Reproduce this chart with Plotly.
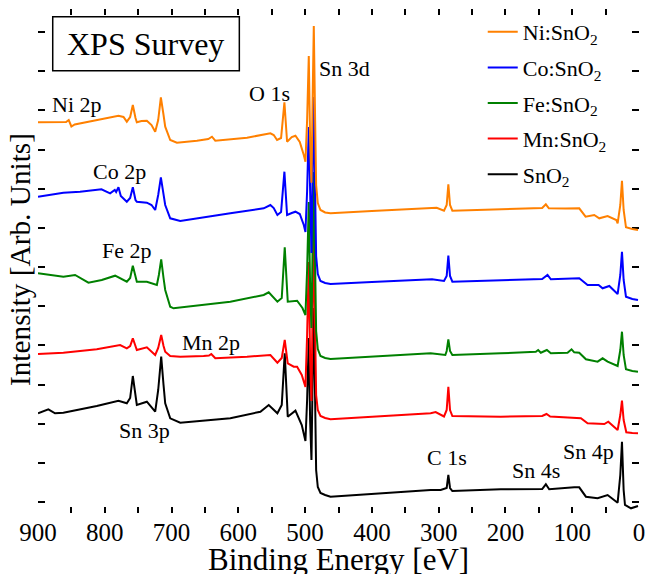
import plotly.graph_objects as go

# ---------------- data (binding energy in eV, intensity in arb. units) ----------------
E_ni = [900, 862, 858, 854, 850, 845, 812, 790, 779.5, 772, 767, 762, 758, 754, 752, 745,
        737, 730, 724.5, 720, 716, 712, 709.5, 702, 692, 662, 645, 639.5, 634.5, 587, 552,
        547, 542, 536, 531, 527, 520, 514.5, 508, 502, 499.5, 497, 494.5, 492.5, 490.5, 489,
        487, 485, 483.5, 481, 477, 470, 462, 400, 310, 303, 292, 288, 285.5, 283, 279.5, 240,
        207, 145, 139.5, 135, 110, 89.5, 80, 67, 59.5, 47, 34, 32, 28, 25.5, 23, 19.5, 10, 1.5]
I_ni = [390.7, 391.5, 391, 393, 386.5, 388.5, 393, 395.5, 397.3, 396, 391.3, 396, 408, 395,
        390.7, 392, 392.3, 388, 381.3, 393, 415.7, 398, 386.3, 373, 370.3, 372.3, 374, 376.3,
        372.3, 375.3, 379.7, 378, 373, 375, 410.7, 371.3, 376, 377.3, 371, 358, 351.3, 393,
        457, 373, 330.3, 403, 487, 393, 328, 310, 303, 300.5, 299.7, 302, 304.7, 305.3, 302.3,
        308, 328.7, 308, 302.3, 303, 303.7, 305, 308.7, 304.7, 304.5, 304.7, 296.3, 298, 294.7,
        297, 293, 289.7, 308, 332.3, 303, 285.7, 284, 283]

E_co = [900, 862, 837, 805, 792, 785, 783, 779.5, 776, 767, 762, 758, 754, 752, 737, 730,
        724.5, 720, 716, 712, 709.5, 702, 687, 612, 562, 552, 547, 541.5, 536, 531, 527, 520,
        514.5, 508, 502, 499.5, 497, 494.5, 492.5, 490.5, 489, 487, 485, 483.5, 481, 477, 470,
        462, 400, 310, 292, 288, 285.5, 283, 279.5, 240, 207, 145, 137, 132, 89.5, 77, 60.5,
        54.5, 44.5, 32, 28, 25.5, 23, 19.5, 10, 1.5]
I_co = [316.3, 320.3, 321.3, 323.7, 319.7, 323, 321, 325.7, 317, 311.3, 315, 325.7, 313,
        311.3, 310.3, 308, 303, 318, 335.7, 318, 308, 294.7, 292, 299.7, 304.7, 308, 305, 298,
        301, 341.3, 298, 300, 301.3, 299, 288, 281, 322, 386, 302, 260, 332, 416, 322, 257,
        239, 232, 230, 229, 231, 233.7, 232, 237, 257.3, 237, 231.3, 232, 233, 234, 238, 233.7,
        234.7, 228, 228, 224.7, 227, 219, 238, 261.3, 233, 216.3, 214, 213]

E_fe = [900, 882, 862, 844.5, 824.5, 804.5, 784.5, 767, 762, 758, 754, 752, 737, 722, 719,
        715.5, 712, 709.5, 702, 697, 612, 562, 554.5, 541.5, 535, 530.5, 526, 512, 504, 499.5,
        497, 494.5, 492.5, 490.5, 489, 487, 485, 483.5, 481, 477, 470, 462, 312, 290, 288,
        285.5, 283, 279.5, 207, 154.5, 151, 147, 138, 132, 107, 101, 97, 89.5, 79.5, 62, 54.5,
        47, 32, 28, 25.5, 23, 19.5, 10, 1.5]
I_fe = [239.7, 238, 236.3, 238, 230.3, 233, 237.3, 231.3, 235, 247.3, 235, 231.3, 231.3, 228,
        238, 253.7, 235, 223, 206.3, 204.7, 211.3, 218, 220.7, 211.3, 215, 265.7, 211.3, 212.3,
        205, 198, 243, 311, 226, 185, 257, 341, 247, 182, 164, 157, 155, 154, 159.7, 158, 162,
        173.7, 162, 158, 159.7, 161.3, 163, 160.3, 163, 159.7, 160.3, 163.7, 160.7, 160.3,
        153.7, 151.3, 154.7, 151.3, 147, 163, 181.3, 158, 143.7, 142, 141.3]

E_mn = [900, 862, 812, 777, 767, 762, 758, 754, 752, 737, 724.5, 720, 715.5, 712, 709.5, 702,
        687, 652, 644, 640.5, 634.5, 587, 552, 541.5, 535, 530.5, 526, 517, 512, 505, 499.5,
        497, 494.5, 492.5, 490.5, 489, 487, 485, 483.5, 481, 477, 470, 462, 312, 304.5, 292,
        288, 285.5, 283, 279.5, 207, 145, 138.5, 133, 87, 77, 52, 46, 32, 28, 25.5, 23, 19,
        10, 1.5]
I_mn = [159, 160.3, 163.7, 168, 164.7, 167, 174.7, 166, 163, 165.7, 158, 165, 178, 167,
        161.3, 157, 156.3, 157, 157.5, 159, 154.7, 156.3, 158, 150.3, 155, 173, 149.7, 146.3,
        146.3, 138, 126, 178, 251, 153, 112, 193, 281, 183, 118, 103, 97, 95, 93.7, 99.7, 101,
        96.5, 103, 126.3, 103, 97, 96.3, 97, 99, 96.5, 94.7, 89.7, 89, 91.3, 83, 98, 112.3,
        93, 80.7, 80, 79.7]

E_sn = [900, 884.5, 874.5, 862, 812, 779.5, 767, 762, 758, 754, 752, 737, 724.5, 720, 715.5,
        712, 709.5, 702, 687, 612, 567, 554.5, 541.5, 535, 530.5, 526, 514.5, 505, 499.5, 497,
        494.5, 492.5, 490.5, 489, 487, 485, 483.5, 481, 477, 470, 462, 312, 297, 288, 285.5,
        283, 279.5, 207, 145, 139.5, 134.5, 97, 89.5, 79.5, 62, 47, 32, 28, 25.5, 23, 21, 12,
        1.5]
I_sn = [99.7, 103.7, 99.7, 100.3, 107, 112.3, 109.7, 115, 137, 115, 108, 111.3, 101.3, 123,
        156.3, 128, 109.7, 94.7, 90.3, 94.7, 101.3, 108, 99.7, 108, 159.7, 96.3, 102.3, 88, 72,
        113, 175, 93, 53, 123, 205, 113, 43, 26, 20, 18, 16.3, 23, 23, 25, 38, 25, 22, 23.7,
        24, 28.7, 23.7, 25.7, 25.7, 16.3, 14.7, 18, 10.3, 38, 71.3, 23, 8, 4.7, 7]

# legend order (top to bottom); zorder keeps the upper spectra drawn on top
series_names = ["Ni:SnO<sub>2</sub>", "Co:SnO<sub>2</sub>", "Fe:SnO<sub>2</sub>",
                "Mn:SnO<sub>2</sub>", "SnO<sub>2</sub>"]
series_colors = ["#FF8000", "#0000FF", "#008000", "#FF0000", "#000000"]
series_E = [E_ni, E_co, E_fe, E_mn, E_sn]
series_I = [I_ni, I_co, I_fe, I_mn, I_sn]
series_z = [5, 4, 3, 2, 1]

xticks = [900, 800, 700, 600, 500, 400, 300, 200, 100, 0]

peak_labels = ["Ni 2p", "O 1s", "Sn 3d", "Co 2p", "Fe 2p", "Mn 2p", "Sn 3p", "C 1s", "Sn 4s", "Sn 4p"]
peak_label_E = [841.6, 553.5, 441.7, 778.7, 766.7, 641, 739.8, 287.5, 154.9, 75.3]
peak_label_I = [409, 420, 445, 342, 263, 171, 83, 56, 43, 62]

FONT = "Liberation Serif, Tinos, DejaVu Serif, serif"

fig = go.Figure()
for name, E, I, col, z in zip(series_names, series_E, series_I, series_colors, series_z):
    fig.add_trace(go.Scatter(x=E, y=I, mode="lines", name=name, legendgroup=name, zorder=z,
                             line=dict(color=col, width=2)))

for txt, ex, iy in zip(peak_labels, peak_label_E, peak_label_I):
    fig.add_annotation(x=ex, y=iy, xref="x", yref="y", text=txt, showarrow=False,
                       font=dict(family=FONT, size=22, color="black"),
                       xanchor="center", yanchor="middle")

# title box
fig.add_shape(type="rect", xref="paper", yref="paper", x0=0.0245, x1=0.335, y0=0.8776, y1=0.9847,
              line=dict(color="black", width=1.5), fillcolor="white", layer="above")
fig.add_annotation(x=0.1797, y=0.931, xref="paper", yref="paper", text="XPS Survey",
                   showarrow=False, font=dict(family=FONT, size=32, color="black"),
                   xanchor="center", yanchor="middle")

# axis titles
fig.add_annotation(x=-0.029, y=0.503, xref="paper", yref="paper", text="Intensity [Arb. Units]",
                   textangle=-90, showarrow=False, font=dict(family=FONT, size=29.3, color="black"),
                   xanchor="center", yanchor="middle")
fig.add_annotation(x=0.5, y=-0.093, xref="paper", yref="paper", text="Binding Energy [eV]",
                   showarrow=False, font=dict(family=FONT, size=31, color="black"),
                   xanchor="center", yanchor="middle")

fig.update_layout(
    width=645, height=574,
    margin=dict(l=38, r=6, t=9, b=61),
    paper_bgcolor="white", plot_bgcolor="white",
    font=dict(family=FONT, color="black"),
    showlegend=True,
    legend=dict(x=0.74, y=0.996, xanchor="left", yanchor="top",
                traceorder="grouped", tracegroupgap=4,
                font=dict(family=FONT, size=22, color="black"),
                bgcolor="rgba(0,0,0,0)", borderwidth=0),
)
fig.update_xaxes(
    range=[900, 0], tickvals=xticks, ticktext=[str(v) for v in xticks],
    ticks="inside", ticklen=6, tickwidth=1.5, tickcolor="black",
    minor=dict(dtick=50, tick0=0, ticks="inside", ticklen=6, tickwidth=1.5, tickcolor="black"),
    showline=True, linewidth=2, linecolor="black", mirror="ticks",
    showgrid=False, zeroline=False,
    tickfont=dict(family=FONT, size=25, color="black"),
    ticklabeloverflow="allow", ticklabelstandoff=-4,
    automargin=False,
)
fig.update_yaxes(
    range=[0, 504], tick0=10.8, dtick=39.18,
    ticks="inside", ticklen=7, tickwidth=1.5, tickcolor="black",
    showticklabels=False,
    showline=True, linewidth=2, linecolor="black", mirror="ticks",
    showgrid=False, zeroline=False, automargin=False,
)

fig.write_html("out.html", config={"displayModeBar": False},
               post_script="document.body.style.margin='0px';")
